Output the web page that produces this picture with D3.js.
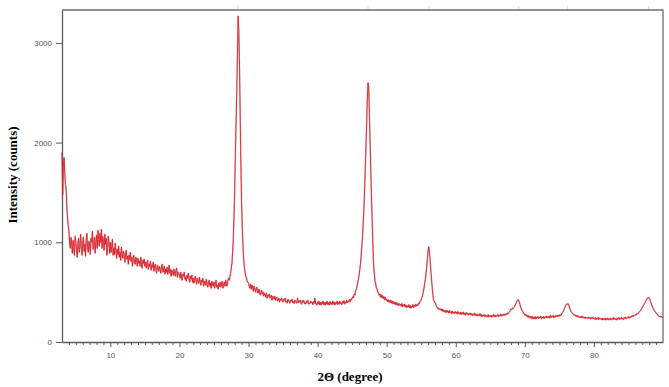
<!DOCTYPE html>
<html>
<head>
<meta charset="utf-8">
<script src="https://cdn.jsdelivr.net/npm/d3@7"></script>
<style>
  body { margin: 0; background: #fff; }
  svg { display: block; }
</style>
</head>
<body>
<svg id="chart" width="669" height="387"></svg>
<script>
// scan settings of the diffractometer (degrees 2-theta)
const scanStart = 3.0;
const scanStep = 0.1;

// intensity (counts), one value per 0.1 deg
const counts3to10 = [
  1900, 1480, 1760, 1850, 1700, 1580, 1540, 1350, 1250, 1170,
  1110, 1000, 940, 1050, 980, 890, 1020, 960, 870, 1060,
  1010, 930, 850, 990, 1040, 900, 960, 1080, 940, 870,
  1000, 1050, 910, 980, 860, 1020, 1090, 950, 900, 1010,
  970, 880, 1040, 1000, 1110, 930, 960, 1050, 890, 1000,
  1070, 940, 1120, 1030, 960, 1090, 1000, 1130, 940, 1060,
  1010, 920, 1080, 980, 1040, 870, 950, 1060, 990, 890
];
const counts10to20 = [
  1000, 900, 960, 1030, 870, 940, 880, 990, 920, 840,
  930, 880, 960, 850, 900, 820, 950, 880, 840, 910,
  870, 800, 880, 920, 830, 860, 780, 870, 830, 900,
  810, 850, 760, 830, 870, 800, 780, 850, 820, 760,
  840, 790, 810, 760, 850, 780, 740, 820, 790, 830,
  760, 800, 740, 790, 820, 730, 780, 760, 810, 720,
  770, 750, 800, 710, 760, 780, 720, 690, 770, 740,
  710, 760, 730, 690, 750, 780, 700, 720, 760, 680,
  730, 700, 750, 680, 710, 770, 690, 730, 660, 720,
  700, 670, 730, 690, 660, 720, 740, 650, 700, 680
];
const counts20to30 = [
  680, 640, 700, 650, 620, 680, 660, 700, 630, 650,
  610, 670, 640, 690, 620, 600, 660, 630, 670, 600,
  640, 590, 620, 660, 610, 580, 640, 610, 590, 650,
  600, 570, 620, 600, 640, 560, 590, 610, 570, 630,
  580, 550, 600, 620, 560, 590, 540, 610, 570, 560,
  600, 540, 580, 620, 550, 570, 530, 590, 560, 600,
  550, 580, 610, 540, 570, 600, 560, 620, 580, 560,
  610, 640, 620, 650, 690, 740, 790, 900, 1040, 1250,
  1540, 1880, 2200, 2530, 2900, 3270, 3100, 2760, 2250, 1760,
  1400, 1150, 960, 830, 750, 700, 660, 640, 610, 600
];
const counts30to40 = [
  590, 560, 540, 580, 530, 570, 550, 510, 560, 540,
  500, 530, 550, 500, 490, 530, 510, 470, 500, 520,
  480, 500, 460, 490, 470, 450, 490, 440, 470, 460,
  480, 440, 450, 470, 420, 460, 440, 430, 460, 420,
  440, 450, 410, 430, 440, 400, 430, 420, 440, 410,
  400, 430, 420, 440, 400, 410, 390, 430, 420, 400,
  390, 420, 410, 430, 395, 405, 385, 420, 410, 395,
  390, 440, 395, 410, 400, 420, 385, 380, 415, 400,
  420, 385, 395, 380, 410, 400, 420, 380, 390, 385,
  410, 395, 400, 375, 405, 385, 440, 390, 380, 370
];
const counts40to50 = [
  400, 380, 410, 375, 395, 370, 400, 385, 410, 375,
  395, 370, 400, 380, 410, 375, 395, 370, 405, 380,
  395, 375, 410, 380, 400, 370, 395, 385, 410, 375,
  400, 380, 410, 385, 395, 375, 405, 390, 415, 380,
  405, 390, 420, 395, 410, 400, 425, 405, 430, 420,
  440, 455, 445, 480, 470, 515, 525, 560, 590, 625,
  670, 720, 780, 860, 950, 1060, 1180, 1330, 1520, 1730,
  1950, 2200, 2440, 2600, 2550, 2300, 2000, 1720, 1460, 1240,
  980, 790, 690, 620, 590, 540, 535, 500, 495, 470,
  480, 450, 475, 445, 465, 435, 455, 425, 450, 420
];
const counts50to60 = [
  430, 405, 425, 400, 415, 395, 420, 390, 410, 385,
  405, 380, 400, 375, 395, 370, 390, 365, 385, 370,
  380, 360, 385, 355, 375, 360, 380, 350, 370, 345,
  365, 350, 375, 345, 365, 340, 360, 350, 375, 345,
  370, 355, 380, 360, 375, 365, 390, 380, 400, 410,
  425, 445, 470, 500, 540, 585, 630, 690, 760, 840,
  920, 955, 890, 810, 710, 620, 540, 470, 420, 400,
  395, 380, 360, 350, 335, 340, 325, 335, 320, 330,
  310, 330, 305, 320, 300, 315, 295, 320, 300, 310,
  290, 315, 295, 305, 285, 310, 290, 300, 285, 305
];
const counts60to70 = [
  290, 300, 280, 305, 285, 295, 280, 300, 275, 295,
  280, 300, 275, 290, 270, 295, 280, 290, 270, 285,
  275, 290, 270, 285, 265, 280, 270, 290, 265, 280,
  265, 280, 260, 275, 265, 285, 260, 275, 255, 270,
  260, 275, 255, 270, 250, 265, 255, 275, 250, 265,
  255, 270, 250, 265, 255, 275, 255, 270, 250, 265,
  260, 275, 255, 270, 260, 280, 260, 275, 265, 280,
  265, 280, 270, 285, 275, 290, 285, 300, 305, 320,
  330, 325, 340, 335, 345, 355, 370, 385, 400, 415,
  425, 420, 400, 375, 350, 330, 315, 305, 290, 285
];
const counts70to80 = [
  270, 280, 260, 270, 250, 265, 245, 260, 240, 255,
  235, 255, 230, 250, 235, 255, 230, 250, 240, 255,
  235, 250, 240, 260, 235, 250, 240, 255, 235, 250,
  245, 260, 240, 255, 245, 260, 240, 270, 245, 260,
  250, 265, 245, 260, 250, 265, 255, 270, 255, 270,
  260, 275, 265, 280, 290, 300, 315, 330, 350, 365,
  375, 385, 375, 380, 360, 340, 320, 305, 295, 285,
  280, 270, 275, 260, 270, 255, 265, 250, 260, 245,
  255, 245, 260, 240, 255, 245, 250, 235, 250, 240,
  245, 235, 250, 240, 245, 230, 245, 235, 250, 235
];
const counts80to90 = [
  240, 230, 245, 225, 240, 230, 245, 225, 240, 230,
  235, 225, 240, 220, 235, 225, 240, 220, 235, 225,
  240, 220, 235, 225, 240, 220, 235, 230, 245, 225,
  240, 225, 235, 220, 240, 230, 245, 225, 240, 230,
  245, 230, 240, 225, 245, 235, 250, 235, 245, 240,
  255, 240, 250, 245, 260, 250, 265, 255, 270, 265,
  275, 270, 285, 280, 290, 295, 305, 310, 320, 335,
  345, 360, 370, 385, 395, 410, 420, 435, 440, 448,
  440, 425, 405, 385, 365, 350, 335, 320, 310, 300,
  290, 280, 275, 265, 260, 255, 260, 250, 255, 245,
  245
];

// faint peak marks above the frame
const peakMarks = [28.5, 47.3, 56.1, 69.1, 76.2, 87.9];

const xTicks = [10, 20, 30, 40, 50, 60, 70, 80];
const yTicks = [0, 1000, 2000, 3000];

const counts = [].concat(counts3to10, counts10to20, counts20to30, counts30to40,
  counts40to50, counts50to60, counts60to70, counts70to80, counts80to90);
const data = counts.map((c, i) => ({ angle: scanStart + i * scanStep, count: c }));

const plot = { left: 62, right: 663, top: 10, bottom: 342 };

const svg = d3.select("#chart");

const x = d3.scaleLinear().domain([3, 90]).range([plot.left, plot.right]);
const y = d3.scaleLinear().domain([0, 3330]).range([plot.bottom, plot.top]);

const axisColor = "#5a5a5a";

// frame top and right
svg.append("path")
  .attr("d", `M${plot.left},${plot.top}H${plot.right}V${plot.bottom}`)
  .attr("fill", "none")
  .attr("stroke", "#6e6e6e")
  .attr("stroke-width", 1.3);

// peak marks
svg.selectAll(".mark")
  .data(peakMarks)
  .enter()
  .append("line")
  .attr("x1", d => x(d))
  .attr("x2", d => x(d))
  .attr("y1", plot.top - 4)
  .attr("y2", plot.top - 1)
  .attr("stroke", "#e6dcb4")
  .attr("stroke-width", 1);

// x axis, minor ticks every degree
const xMinor = d3.range(4, 90, 1).filter(v => v % 10 !== 0);
svg.append("g")
  .attr("transform", `translate(0,${plot.bottom})`)
  .call(d3.axisBottom(x).tickValues(xTicks).tickSize(5).tickPadding(5).tickSizeOuter(0));
svg.append("g")
  .attr("transform", `translate(0,${plot.bottom})`)
  .call(d3.axisBottom(x).tickValues(xMinor).tickSize(3).tickFormat("").tickSizeOuter(0))
  .call(g => g.select(".domain").remove());

// y axis
svg.append("g")
  .attr("transform", `translate(${plot.left},0)`)
  .call(d3.axisLeft(y).tickValues(yTicks).tickFormat(d3.format("d"))
    .tickSize(6).tickPadding(4).tickSizeOuter(0));

svg.selectAll(".domain").attr("stroke", axisColor).attr("stroke-width", 1.3);
svg.selectAll(".tick line").attr("stroke", axisColor);
svg.selectAll(".tick text")
  .attr("fill", "#555")
  .style("font-family", "'Liberation Sans', Arial, sans-serif")
  .style("font-size", "8px");

// the pattern: soft dark edge under a red trace
const line = d3.line()
  .x(d => x(d.angle))
  .y(d => y(d.count));

svg.append("path")
  .datum(data)
  .attr("fill", "none")
  .attr("stroke", "#a8484c")
  .attr("stroke-opacity", 0.45)
  .attr("stroke-width", 1.4)
  .attr("stroke-linejoin", "round")
  .attr("d", line);

svg.append("path")
  .datum(data)
  .attr("fill", "none")
  .attr("stroke", "#e3121b")
  .attr("stroke-width", 0.8)
  .attr("stroke-linejoin", "round")
  .attr("d", line);

// axis titles
svg.append("text")
  .attr("x", 350)
  .attr("y", 381)
  .attr("text-anchor", "middle")
  .style("font-family", "'Liberation Serif', 'Times New Roman', serif")
  .style("font-weight", "bold")
  .style("font-size", "13px")
  .text("2Θ (degree)");

svg.append("text")
  .attr("transform", "translate(17,175) rotate(-90)")
  .attr("text-anchor", "middle")
  .style("font-family", "'Liberation Serif', 'Times New Roman', serif")
  .style("font-weight", "bold")
  .style("font-size", "13px")
  .text("Intensity (counts)");
</script>
</body>
</html>
